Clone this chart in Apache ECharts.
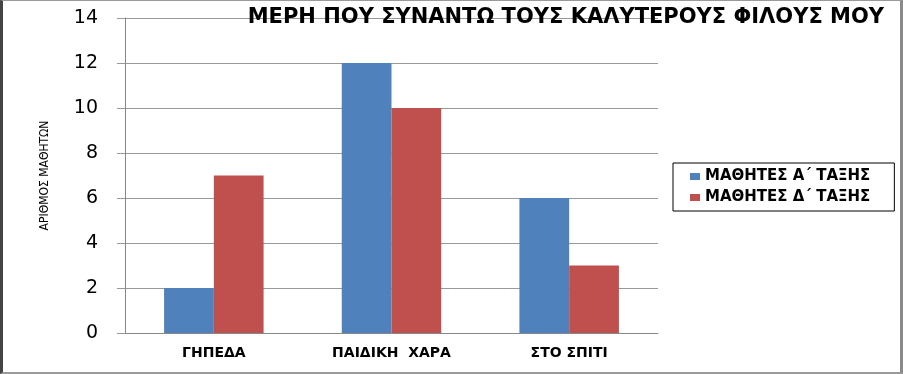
<!DOCTYPE html>
<html><head><meta charset="utf-8">
<script src="https://cdn.jsdelivr.net/npm/echarts@6/dist/echarts.min.js"></script>
<style>
html,body{margin:0;padding:0;background:#fff;}
#frame{position:absolute;left:0;top:0;width:903px;height:374px;box-sizing:border-box;border-top:1px solid #9a9a9a;border-left:3px solid #444;border-right:3px solid #8a8a8a;border-bottom:2px solid #9a9a9a;}
#c{position:absolute;left:0;top:0;width:903px;height:374px;}
</style></head><body>
<div id="c"></div><div id="frame"></div>
<script>
const categories = ['ΓΗΠΕΔΑ', 'ΠΑΙΔΙΚΗ  ΧΑΡΑ', 'ΣΤΟ ΣΠΙΤΙ'];
const seriesNames = ['ΜΑΘΗΤΕΣ Α΄ ΤΑΞΗΣ', 'ΜΑΘΗΤΕΣ Δ΄ ΤΑΞΗΣ'];
const seriesA = [2, 12, 6];
const seriesD = [7, 10, 3];
const yTicks = {min: 0, max: 14, interval: 2};

const chart = echarts.init(document.getElementById('c'));
chart.setOption({
  animation: false,
  backgroundColor: '#fff',
  title: {
    text: 'ΜΕΡΗ ΠΟΥ ΣΥΝΑΝΤΩ ΤΟΥΣ ΚΑΛΥΤΕΡΟΥΣ ΦΙΛΟΥΣ ΜΟΥ',
    right: 14, top: 2,
    textStyle: {fontFamily: 'DejaVu Sans', fontWeight: 'bold', fontSize: 21, color: '#000'}
  },
  legend: {
    orient: 'vertical', left: 673, top: 163,
    padding: [6, 24, 6, 17],
    itemGap: 6,
    itemWidth: 10, itemHeight: 7,
    icon: 'rect',
    borderColor: '#000', borderWidth: 1,
    textStyle: {fontFamily: 'DejaVu Sans', fontWeight: 'bold', fontSize: 15, color: '#000'},
    data: seriesNames
  },
  grid: {left: 125, right: 245, top: 18, bottom: 41},
  xAxis: {
    type: 'category', data: categories,
    axisLine: {lineStyle: {color: '#888'}},
    axisTick: {length: 5, lineStyle: {color: '#888'}},
    axisLabel: {margin: 13, fontFamily: 'DejaVu Sans', fontWeight: 'bold', fontSize: 14, color: '#000'}
  },
  yAxis: {
    type: 'value', min: yTicks.min, max: yTicks.max, interval: yTicks.interval,
    name: 'ΑΡΙΘΜΟΣ ΜΑΘΗΤΩΝ', nameLocation: 'middle', nameGap: 74, nameRotate: 90,
    nameTextStyle: {fontFamily: "'DejaVu Sans Condensed', 'Liberation Sans'", fontSize: 12, color: '#000'},
    axisLine: {show: true, lineStyle: {color: '#888'}},
    axisTick: {show: true, length: 8, lineStyle: {color: '#999'}},
    splitLine: {lineStyle: {color: '#999'}},
    axisLabel: {margin: 27, fontFamily: 'DejaVu Sans', fontSize: 19, color: '#000'}
  },
  series: [
    {name: seriesNames[0], type: 'bar', data: seriesA, barGap: '0%', barCategoryGap: '44%', itemStyle: {color: '#4f81bd'}},
    {name: seriesNames[1], type: 'bar', data: seriesD, itemStyle: {color: '#c0504d'}}
  ]
});
</script>
</body></html>
